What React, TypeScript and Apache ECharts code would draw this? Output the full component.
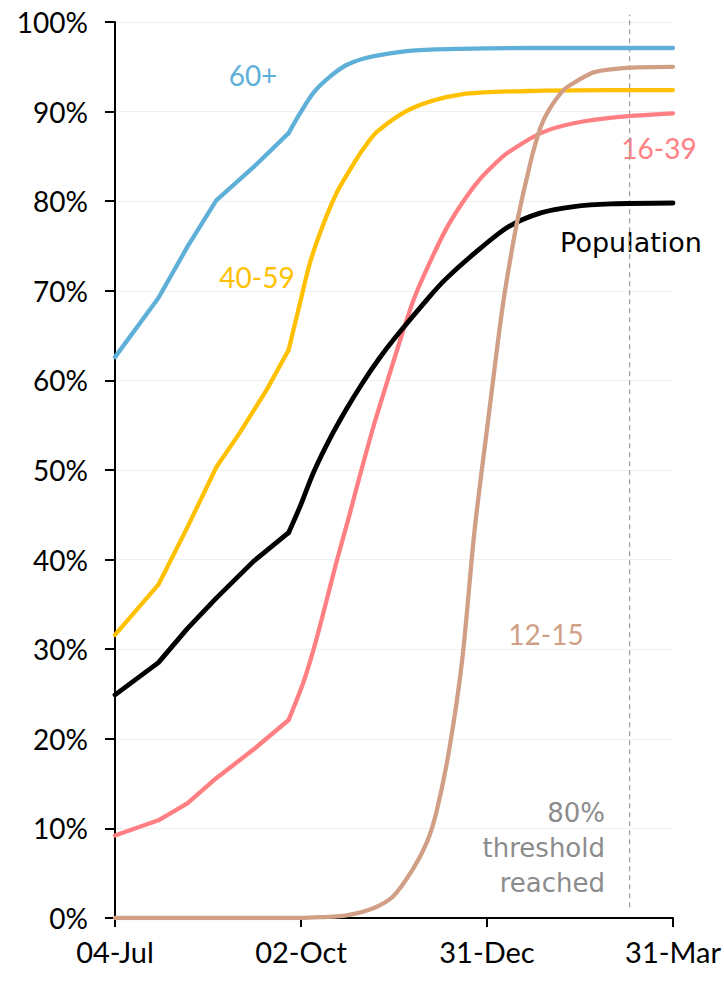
import React, { useEffect, useRef } from "react";
import * as echarts from "echarts";

// x = days since 04-Jul
const xTickDays = [0, 90, 180, 270];
const xTickLabels = ["04-Jul", "02-Oct", "31-Dec", "31-Mar"];

// last day of weekly (actual) data; beyond it the lines are smooth projections
const actualEndDay = 84;

const days60 = [0, 21, 35, 49, 67, 84, 89.5, 96, 104, 112, 120, 128, 144, 167, 200, 240, 270];
const vals60 = [62.6, 69.2, 74.9, 80.1, 83.8, 87.6, 89.8, 92.1, 93.9, 95.2, 95.9, 96.3, 96.8, 97.0, 97.1, 97.1, 97.1];

const days40 = [0, 21, 35, 49, 60.5, 73.5, 84, 89.5, 94.3, 100.6, 107.4, 115, 120, 127, 144, 167, 200, 240, 270];
const vals40 = [31.6, 37.2, 43.6, 50.3, 54.2, 59.0, 63.4, 68.6, 73.1, 77.3, 81.0, 84.0, 85.8, 87.8, 90.4, 91.9, 92.3, 92.4, 92.4];

const daysPop = [0, 21, 35, 49, 67, 84, 89.5, 96, 104, 112, 120, 128, 136, 152, 160, 173, 190, 206, 222, 240, 270];
const valsPop = [24.9, 28.5, 32.3, 35.7, 39.8, 43.0, 45.9, 49.7, 53.5, 56.8, 59.8, 62.5, 64.9, 69.3, 71.3, 74.0, 77.1, 78.7, 79.4, 79.7, 79.8];

const days16 = [0, 21, 35, 49, 67, 84, 91, 96, 101, 107, 113, 117, 125, 133, 139.5, 145, 152, 160, 168, 176, 184, 190, 206, 222, 244, 270];
const vals16 = [9.2, 10.9, 12.8, 15.6, 18.8, 22.1, 26.2, 29.9, 34.2, 39.6, 44.6, 48.1, 54.8, 60.8, 65.6, 69.3, 73.0, 76.8, 79.8, 82.3, 84.2, 85.4, 87.6, 88.7, 89.4, 89.8];

const days12 = [0, 90, 100, 112, 125, 134.5, 144, 151, 155.5, 161.5, 168, 174, 181, 186, 189, 194.5, 201, 206, 210, 217, 222, 232, 249, 270];
const vals12 = [0, 0, 0.1, 0.3, 1.1, 2.4, 5.4, 8.5, 11.8, 18.5, 28.8, 43.3, 56.4, 65.6, 70.4, 77.6, 84.3, 88.3, 90.2, 92.4, 93.2, 94.4, 94.9, 95.0];

const thresholdDay = 249;

const FONT = "Lato";
const WORD_FONT = "DejaVu Sans";

function pairs(xs: number[], ys: number[]) {
  return xs.map((x, i) => [x, ys[i]]);
}

export default function App() {
  const ref = useRef<HTMLDivElement>(null);
  useEffect(() => {
    if (!ref.current) return;
    const chart = echarts.init(ref.current, null, { renderer: "svg" });
    const base = (name: string, data: number[][], color: string, width: number, smooth: boolean) => ({
      name,
      type: "line",
      data,
      showSymbol: false,
      symbol: "none",
      smooth: smooth ? 0.3 : false,
      lineStyle: { color, width, cap: "round", join: "round" },
      silent: true,
    });
    const lineSeries = (name: string, xs: number[], ys: number[], color: string, width = 4.3) => {
      const all = pairs(xs, ys);
      const hist = all.filter((p) => p[0] <= actualEndDay);
      const proj = all.filter((p) => p[0] >= actualEndDay);
      if (hist.length < 2 || proj.length < 2 || hist[hist.length - 1][0] !== actualEndDay) {
        return [base(name, all, color, width, true)];
      }
      return [base(name, hist, color, width, false), base(name + " projection", proj, color, width, true)];
    };
    chart.setOption({
      animation: false,
      backgroundColor: "#ffffff",
      textStyle: { fontFamily: FONT },
      grid: { left: 115, right: 51, top: 22, bottom: 63, containLabel: false },
      xAxis: {
        type: "value",
        min: 0,
        max: 270,
        interval: 90,
        axisLine: { show: true, lineStyle: { color: "#000", width: 2 } },
        axisTick: { show: true, length: 9, lineStyle: { color: "#000", width: 2 } },
        splitLine: { show: false },
        axisLabel: {
          color: "#000",
          fontFamily: FONT,
          fontSize: 29,
          margin: 19,
          formatter: (v: number) => {
            const i = xTickDays.indexOf(v);
            return i >= 0 ? xTickLabels[i] : "";
          },
        },
      },
      yAxis: {
        type: "value",
        min: 0,
        max: 100,
        interval: 10,
        axisLine: { show: true, lineStyle: { color: "#000", width: 2 } },
        axisTick: { show: true, length: 10, lineStyle: { color: "#000", width: 2 } },
        splitLine: { show: true, lineStyle: { color: "#f0f0f0", width: 1 } },
        axisLabel: {
          color: "#000",
          fontFamily: FONT,
          fontSize: 28,
          margin: 27,
          formatter: "{value}%",
        },
      },
      series: [
        {
          name: "threshold",
          type: "line",
          data: [[thresholdDay, 1.2], [thresholdDay, 100.8]],
          clip: false,
          symbol: "none",
          silent: true,
          lineStyle: { color: "#a0a0a0", width: 1.3, type: [5, 4] },
        },
        ...lineSeries("60+", days60, vals60, "#5fb0d8"),
        ...lineSeries("40-59", days40, vals40, "#ffc000"),
        ...lineSeries("16-39", days16, vals16, "#ff7f82"),
        ...lineSeries("Population", daysPop, valsPop, "#000000", 4.8),
        ...lineSeries("12-15", days12, vals12, "#d09f86"),
      ],
      graphic: [
        { type: "text", x: 253, y: 75, style: { text: "60+", fill: "#5fb0d8", font: `28px ${FONT}`, textAlign: "center", textVerticalAlign: "middle" } },
        { type: "text", x: 257, y: 277, style: { text: "40-59", fill: "#ffc000", font: `28px ${FONT}`, textAlign: "center", textVerticalAlign: "middle" } },
        { type: "text", x: 659, y: 148, style: { text: "16-39", fill: "#ff7f82", font: `28px ${FONT}`, textAlign: "center", textVerticalAlign: "middle" } },
        { type: "text", x: 631, y: 242, style: { text: "Population", fill: "#000000", font: `27px "${WORD_FONT}"`, textAlign: "center", textVerticalAlign: "middle" } },
        { type: "text", x: 546, y: 634, style: { text: "12-15", fill: "#d09f86", font: `28px ${FONT}`, textAlign: "center", textVerticalAlign: "middle" } },
        { type: "text", x: 605, y: 848, style: { text: "80%\nthreshold\nreached", fill: "#8c8c8c", font: `26px "${WORD_FONT}"`, lineHeight: 35, textAlign: "right", textVerticalAlign: "middle" } },
      ],
    });
    return () => chart.dispose();
  }, []);
  return <div ref={ref} style={{ width: 724, height: 981, position: "absolute", left: 0, top: 0 }} />;
}
